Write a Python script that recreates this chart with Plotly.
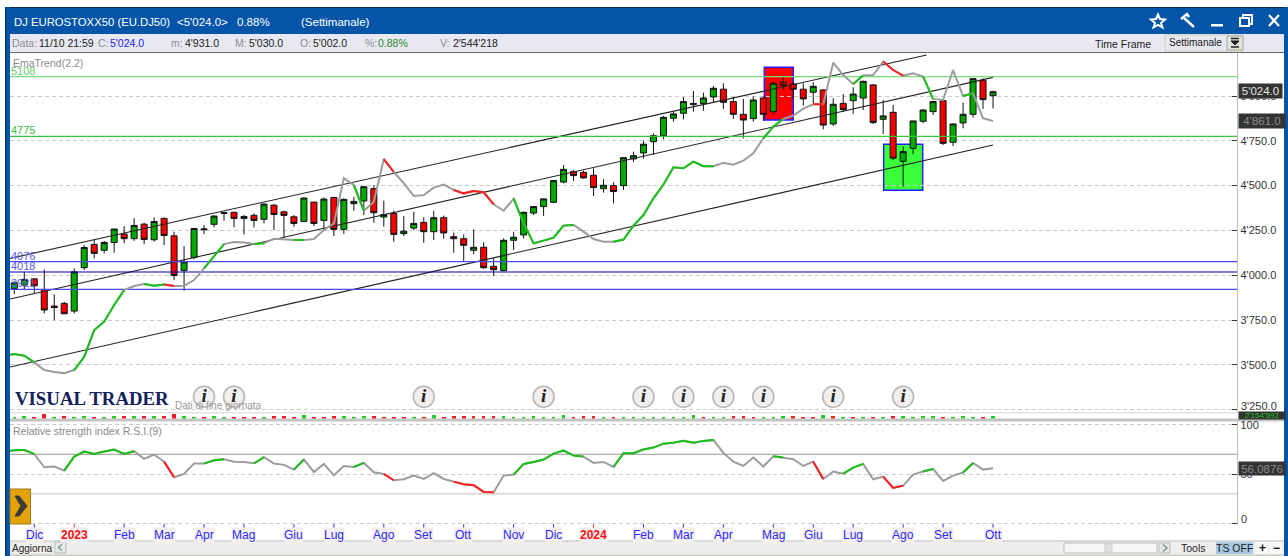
import plotly.graph_objects as go

# ---------- data ----------
weeks = list(range(99))
opens = [3926,3945,3980,3921,3828,3843,3800,4042,4172,4139,4183,4230,4204,4285,4198,4317,4220,4027,4099,4254,4284,4345,4351,4328,4334,4312,4391,4354,4326,4300,4408,4306,4434,4256,4399,4414,4483,4325,4345,4232,4263,4295,
         4243,4321,4215,4204,4139,4156,4050,4026,4195,4225,4347,4383,4407,4520,4578,4574,4558,4483,4500,4500,4649,4682,4745,4779,4876,4904,4952,4958,4995,5038,4969,4898,4874,4989,4913,5077,5067,5038,5021,5034,4844,4959,4974,4989,5062,4870,4909,4636,4708,4859,4913,4974,4742,4850,4898,5088,5002]
closes = [3958,3977,3941,3806,3820,3785,4019,4155,4122,4183,4258,4204,4278,4200,4300,4222,3999,4075,4261,4258,4330,4349,4317,4317,4306,4397,4339,4334,4289,4431,4289,4425,4256,4423,4412,4494,4349,4339,4228,4246,4289,4243,
          4321,4236,4204,4167,4156,4042,4031,4195,4212,4351,4383,4426,4528,4591,4556,4543,4489,4502,4467,4656,4667,4731,4779,4881,4900,4969,4958,4989,5043,4965,4898,4866,4978,4898,5071,5060,5038,4984,5054,4838,4954,4924,5011,5082,4852,4889,4653,4690,4861,4922,4969,4736,4844,4898,5097,4980,5024]
highs = [3967,4019,3980,4033,3893,3852,4038,4168,4200,4191,4258,4274,4319,4293,4323,4323,4243,4163,4261,4280,4336,4354,4354,4336,4345,4401,4397,4360,4336,4434,4408,4434,4438,4429,4438,4498,4503,4416,4360,4330,4354,4323,
         4359,4333,4238,4228,4256,4184,4095,4206,4243,4355,4383,4429,4532,4615,4587,4584,4597,4535,4519,4658,4690,4749,4792,4889,4913,4993,5028,5019,5056,5071,4994,4984,4997,4997,5080,5104,5077,5071,5077,5038,4987,5011,5049,5086,5067,4978,4950,4718,4861,4926,4974,4974,4848,4963,5099,5099,5030]
lows = [3895,3917,3902,3787,3750,3783,3787,4029,4094,4122,4126,4178,4192,4174,4187,4168,3973,3913,4088,4230,4267,4304,4267,4228,4267,4289,4252,4211,4271,4297,4274,4252,4219,4230,4360,4336,4293,4271,4187,4219,4252,4181,
        4197,4204,4126,4076,4117,4035,3996,4022,4141,4206,4336,4331,4405,4513,4526,4539,4442,4461,4401,4476,4632,4651,4671,4759,4857,4870,4913,4918,4965,4928,4872,4764,4857,4861,4894,5034,4984,4946,4950,4814,4833,4913,4900,4922,4844,4788,4643,4494,4675,4848,4894,4727,4721,4820,4879,4928,4931]

ema_weeks = list(range(-1, 99))
ema = [3551,3560,3551,3514,3471,3460,3454,3471,3545,3694,3741,3834,3917,3940,3951,3941,3949,3940,3941,3973,4038,4103,4174,4185,4183,4174,4178,4204,4198,4196,4196,4202,4252,4289,4542,4503,4360,4410,4648,4576,4514,4442,4447,
       4489,4506,4476,4457,4470,4463,4396,4360,4427,4290,4178,4193,4210,4277,4281,4243,4202,4187,4187,4199,4277,4336,4429,4506,4602,4597,4634,4608,4608,4628,4617,4639,4680,4764,4829,4872,4891,4930,4954,4954,5186,5117,5067,5114,5117,5192,5145,5114,5127,5108,4984,4978,5145,5000,5015,4876,4861]
ema_green_spans = [(-1,2),(6,11),(13,15),(19,21),(24,25),(28,29),(34,35),(50,56),(60,70),(75,77),(84,85),(91,92),(95,96)]
ema_red_spans = [(15,16),(37,38),(44,48),(80,81),(87,89)]

rsi = [73.0,74.3,74.6,70.5,57.0,57.7,53.6,67.8,72.9,70.5,72.9,75.0,70.5,73.3,65.5,69.9,62.7,46.8,50.2,60.7,60.7,64.1,65.1,62.7,62.4,61.0,67.2,60.7,59.4,54.6,64.8,52.2,60.4,48.8,58.3,57.3,61.4,51.9,50.2,43.8,44.8,48.5,45.1,
       50.9,45.1,42.4,39.7,38.7,31.9,31.6,48.5,49.5,60.4,62.4,64.8,70.9,73.9,68.8,67.8,61.4,62.4,57.3,71.2,71.2,75.0,77.0,81.0,82.0,83.8,82.0,83.8,84.8,71.6,62.7,58.3,66.8,57.7,68.2,66.8,65.1,58.3,62.7,45.1,52.6,50.5,56.6,60.4,44.8,47.5,36.0,38.3,49.5,52.6,55.3,43.1,48.5,51.6,61.4,54.6,56.09]
rsi_green_spans = [(-1,2),(5,12),(19,21),(24,25),(28,29),(34,35),(50,57),(60,70),(76,77),(83,85),(91,92),(95,96)]
rsi_red_spans = [(15,16),(37,38),(44,48),(80,81),(87,89)]

volume_m = [2.1,2.2,2.0,4.6,2.0,2.4,2.1,2.6,2.0,2.1,2.3,2.4,2.2,2.3,2.4,2.5,4.8,2.4,2.1,2.0,2.5,2.0,2.0,2.1,2.0,2.1,2.6,2.6,2.0,3.8,2.1,2.0,2.2,2.2,2.0,3.0,3.0,2.0,2.0,2.1,2.0,2.0,
            3.8,2.0,2.4,2.4,2.4,2.4,2.4,2.4,2.0,2.0,2.6,2.0,2.0,3.8,2.0,2.6,2.2,2.0,2.1,2.0,2.0,2.0,2.0,2.0,2.0,2.0,3.6,2.0,2.0,2.0,2.8,2.8,2.0,2.0,2.0,2.6,2.8,2.0,2.0,3.6,2.4,2.0,2.0,
            2.0,2.0,2.0,3.0,2.6,2.0,2.4,2.4,2.0,2.0,2.6,2.0,2.0,2.54]
volume_dir = list("ggrrgrggrggrgrgrrggrggrrrgrrrgrrrgggrrrrgr"[:42] + "grrrrrrgggggggrrrgrggggggggrggrrrgggrrrgrgrg"[:43] + "grgrggggrgggrg")

hlevels_green = [5108, 4775]
hlevels_blue = [4076, 3921]
hlevel_navy = [4018]
channel_top_x, channel_top_y = [-0.43, 91.36], [4094, 5229]
channel_mid_x, channel_mid_y = [-0.43, 98], [3867, 5104]
channel_low_x, channel_low_y = [-0.43, 98], [3488, 4727]
red_zone = dict(x0=75.1, x1=78.0, y0=4866, y1=5160)
green_zone = dict(x0=87.05, x1=90.96, y0=4474, y1=4731)
event_weeks = [19, 22, 41, 53, 63, 67, 71, 75, 82, 89]
event_level = 3322
price_ticks = [3250, 3500, 3750, 4000, 4250, 4500, 4750, 5000]
price_labels = ["", "3'500.0", "3'750.0", "4'000.0", "4'250.0", "4'500.0", "4'750.0", "5'000.0"]
rsi_ticks = [0, 50, 100]
rsi_labels = ["", "50", "100"]
time_ticks = [2, 6, 11, 15, 19, 23, 28, 32, 37, 41, 45, 50, 54, 58, 63, 67, 71, 76, 80, 84, 89, 93, 98]
time_labels = ["Dic", "2023", "Feb", "Mar", "Apr", "Mag", "Giu", "Lug", "Ago", "Set", "Ott", "Nov", "Dic", "2024", "Feb", "Mar", "Apr", "Mag", "Giu", "Lug", "Ago", "Set", "Ott"]

# ---------- helpers ----------
W, H = 1288, 556
FONT = "Liberation Sans"
def px(x): return x / W
def py(y): return 1 - y / H

ann = []
def label(x, y, text, size=11, color="#333", anchor="left", family=FONT, **kw):
    ann.append(dict(x=px(x), y=py(y), xref="paper", yref="paper", text=text, showarrow=False,
                    xanchor=anchor, yanchor="middle", borderpad=0,
                    font=dict(size=size, color=color, family=family), **kw))

shapes = []
def rect(x0, y0, x1, y1, fill, line=None, width=1, layer="below"):
    shapes.append(dict(type="rect", xref="paper", yref="paper", x0=px(x0), x1=px(x1), y0=py(y0), y1=py(y1),
                       fillcolor=fill, line=dict(color=line or fill, width=width if line else 0), layer=layer))
def seg(x0, y0, x1, y1, color, width=1, layer="above"):
    shapes.append(dict(type="line", xref="paper", yref="paper", x0=px(x0), x1=px(x1), y0=py(y0), y1=py(y1),
                       line=dict(color=color, width=width), layer=layer))
def path(pts, color, width=2, fill=None, layer="above", close=False):
    d = "M " + " L ".join(f"{px(a):.5f} {py(b):.5f}" for a, b in pts) + (" Z" if close else "")
    shapes.append(dict(type="path", xref="paper", yref="paper", path=d, line=dict(color=color, width=width),
                       fillcolor=fill or "rgba(0,0,0,0)", layer=layer))

def spans_xy(xs, ys, spans):
    ox, oy = [], []
    for a, b in spans:
        for i, xv in enumerate(xs):
            if a <= xv <= b:
                ox.append(xv); oy.append(ys[i])
        ox.append(None); oy.append(None)
    return ox, oy

# ---------- window chrome ----------
BLUE = "#0455A8"
rect(5, 7, 1288, 556, "#FFFFFF")
rect(5, 7, 1288, 34, BLUE)
seg(5, 7.5, 1288, 7.5, "#0A2A50", 1, "below")
rect(5, 7, 10, 556, BLUE)
seg(5.5, 7, 5.5, 556, "#0A2A50", 1, "below")
rect(1284, 7, 1288, 556, BLUE)
rect(10, 34, 1284, 52, "#E8E8F2")
seg(10, 52.5, 1284, 52.5, "#666", 1, "below")
rect(10, 541, 1284, 556, "#F0EEEC")
seg(10, 541, 1284, 541, "#BBB", 1, "below")
rect(10, 554.5, 1284, 556, "#CCCCC0")

label(13, 22, "DJ EUROSTOXX50 (EU.DJ50)", 11.3, "#FFFFFF")
label(176, 22, "&lt;5'024.0&gt;", 11.5, "#FFFFFF")
label(236, 22, "0.88%", 11.5, "#FFFFFF")
label(300, 22, "(Settimanale)", 11.5, "#FFFFFF")
for x, t, c in [(11, "Data:", "#8c8c8c"), (38, "11/10 21:59", "#222"), (97, "C:", "#8c8c8c"), (109, "5'024.0", "#2222EE"),
                (170, "m:", "#8c8c8c"), (184, "4'931.0", "#222"), (234, "M:", "#8c8c8c"), (248, "5'030.0", "#222"),
                (299, "O:", "#8c8c8c"), (312, "5'002.0", "#222"), (364, "%:", "#8c8c8c"), (377, "0.88%", "#2E8B2E"),
                (439, "V:", "#8c8c8c"), (452, "2'544'218", "#222")]:
    label(x, 43.5, t, 10.5, c)
label(1094, 44, "Time Frame", 10.5, "#222")
rect(1165, 35, 1243, 51, "#E8E8F2", "#CFCFC4")
label(1168, 42.5, "Settimanale", 10, "#222")
rect(1227, 36, 1243, 50, "#E4E2DA", "#AAAAA0")
path([(1231, 41), (1239, 41), (1235, 45)], "#222", 1, "#222", close=True)
seg(1231, 38.5, 1239, 38.5, "#222", 1.5)
seg(1231, 47, 1239, 47, "#222", 1.5)

# title-bar icons
path([(1158, 14.5), (1160, 19), (1165, 19.5), (1161, 23), (1162.5, 27.5), (1158, 25), (1153.5, 27.5), (1155, 23), (1151, 19.5), (1156, 19)],
     "#FFFFFF", 2, close=True)
seg(1184, 18, 1194, 27, "#FFFFFF", 2.5)
path([(1181, 19), (1187, 14), (1189, 17)], "#FFFFFF", 2.5)
rect(1211, 24, 1223, 26.5, "#FFFFFF", layer="above")
path([(1243, 18), (1243, 15), (1252, 15), (1252, 24), (1249, 24)], "#FFFFFF", 1.8)
path([(1240, 18), (1249, 18), (1249, 26), (1240, 26)], "#FFFFFF", 2, close=True)
seg(1269, 15, 1279, 26, "#FFFFFF", 2.2)
seg(1279, 15, 1269, 26, "#FFFFFF", 2.2)

# panes decoration
rect(10, 412, 1284, 413.5, "#E4E4E4")
rect(10, 418.5, 1284, 421.5, "#C4C4C4")

# orange button
rect(10, 489, 30.5, 524, "#E3A208", "#A67C14", 1, layer="above")
path([(15, 496), (19, 496), (27, 506), (19, 516), (15, 516), (21, 506)], "#3A3A3A", 1, "#3A3A3A", close=True)

# bottom bar
rect(11, 542, 52, 554, "#F4F2F0", "#DDD")
label(31.5, 548, "Aggiorna", 10, "#222", "center")
rect(55, 542, 66, 553, "#E4E8E4", "#BBB")
path([(62, 544.5), (58.5, 547.5), (62, 550.5)], "#7A9A90", 1.5)
rect(1064, 543, 1157, 553, "#F6F6F6", "#BBB")
rect(1105, 544, 1112, 552, "#E2E2E2", "#CCC")
rect(1159, 543, 1170, 553, "#E4E8E4", "#BBB")
path([(1163, 544.5), (1167, 548), (1163, 551.5)], "#7A9A90", 1.5)
label(1193, 548, "Tools", 10.5, "#222", "center")
rect(1216, 542, 1253, 554, "#A9C8E6")
label(1234.5, 548, "TS OFF", 10.5, "#222", "center")
rect(1255, 542, 1268, 554, "#F8F8F8")
label(1262, 548, "<b>+</b>", 12, "#111", "center")
rect(1270, 542, 1282, 554, "#F8F8F8")
label(1276, 548, "<b>−</b>", 12, "#111", "center")

# pane labels
label(12, 63, "EmaTrend(2.2)", 10.5, "#8a8a8a")
label(10, 71, "5108", 11, "#6CCB6C")
label(10, 130, "4775", 11, "#40BE40")
label(10, 256, "4076", 11, "#5A5AF0")
label(10, 265.5, "4018", 11, "#5A5AF0")
label(10, 283, "3921", 11, "#5A5AF0")
label(174, 405, "Dati di fine giornata", 10, "#9a9a9a")
label(14, 398, "<b>VISUAL TRADER</b>", 18.8, "#14205C", family="Liberation Serif")
label(12, 431, "Relative strength index R.S.I.(9)", 10.5, "#8a8a8a")
label(1240, 405.5, "3'250.0", 11, "#333")
label(1240, 519, "0", 11, "#333")

# value boxes
label(1238, 91, "5'024.0", 11.5, "#E6E6E6", bgcolor="#333333", width=43, height=14, align="center")
label(1238, 121, "4'861.0", 11.5, "#8C8C8C", bgcolor="#333333", width=46, height=14, align="center")
label(1238, 468.5, "56.0876", 11.5, "#8C8C8C", bgcolor="#333333", width=46, height=13, align="center")
label(1238, 415, "2'154'592", 8, "#22C022", bgcolor="#333333", width=46, height=7, align="center")

# time ticks and labels
XMIN, XMAX = -0.43, 122.46
for t, lab in zip(time_ticks, time_labels):
    year = lab.startswith("20")
    shapes.append(dict(type="line", xref="x", yref="paper", x0=t, x1=t, y0=py(524), y1=py(528),
                       line=dict(color="#FF3030" if year else "#3030FF", width=1), layer="above"))
    ann.append(dict(x=t, xref="x", y=py(535), yref="paper", showarrow=False, xanchor="center", yanchor="middle",
                    text=f"<b>{lab}</b>" if year else lab, bgcolor="#F3EFEF", borderpad=0,
                    font=dict(family=FONT, size=12, color="#FF1010" if year else "#2A2AFF")))

# highlighted zones
for z, c in [(red_zone, "#FF0000"), (green_zone, "#3CFF3C")]:
    shapes.append(dict(type="rect", xref="x", yref="y", fillcolor=c, line=dict(color="#2020FF", width=1.5), layer="below", **z))

# ---------- traces ----------
fig = go.Figure()
GRAY, GREEN, RED = "#9C9C9C", "#18C018", "#FF1C1C"

fig.add_trace(go.Scatter(x=channel_top_x, y=channel_top_y, mode="lines", line=dict(color="#222", width=1.1), yaxis="y"))
fig.add_trace(go.Scatter(x=channel_mid_x, y=channel_mid_y, mode="lines", line=dict(color="#222", width=1.1), yaxis="y"))
fig.add_trace(go.Scatter(x=channel_low_x, y=channel_low_y, mode="lines", line=dict(color="#222", width=1.1), yaxis="y"))

for lv, c in zip(hlevels_green, ["#78DC78", "#38C838"]):
    fig.add_trace(go.Scatter(x=[XMIN, XMAX], y=[lv, lv], mode="lines", line=dict(color=c, width=1.2), yaxis="y"))
for lv in hlevels_blue:
    fig.add_trace(go.Scatter(x=[XMIN, XMAX], y=[lv, lv], mode="lines", line=dict(color="#4A4AF5", width=1.2), yaxis="y"))
for lv in hlevel_navy:
    fig.add_trace(go.Scatter(x=[XMIN, XMAX], y=[lv, lv], mode="lines", line=dict(color="#0000B4", width=1.2), yaxis="y"))

fig.add_trace(go.Candlestick(x=weeks, open=opens, high=highs, low=lows, close=closes, yaxis="y",
                             increasing=dict(line=dict(color="#101010", width=1), fillcolor="#00A800"),
                             decreasing=dict(line=dict(color="#101010", width=1), fillcolor="#F40000")))

fig.add_trace(go.Scatter(x=ema_weeks, y=ema, mode="lines", line=dict(color=GRAY, width=2), yaxis="y"))
gx, gy = spans_xy(ema_weeks, ema, ema_green_spans)
fig.add_trace(go.Scatter(x=gx, y=gy, mode="lines", line=dict(color=GREEN, width=2), yaxis="y"))
rx, ry = spans_xy(ema_weeks, ema, ema_red_spans)
fig.add_trace(go.Scatter(x=rx, y=ry, mode="lines", line=dict(color=RED, width=2), yaxis="y"))

fig.add_trace(go.Scatter(x=event_weeks, y=[event_level] * len(event_weeks), mode="markers+text", yaxis="y",
                         marker=dict(size=21, color="#F2EFEF", line=dict(color="#B8B8B8", width=1.6)),
                         text=["<b><i>i</i></b>"] * len(event_weeks), textposition="middle center",
                         textfont=dict(family="Liberation Serif", size=19, color="#222")))

fig.add_trace(go.Bar(x=weeks, y=volume_m, width=0.36, yaxis="y2",
                     marker=dict(color=["#22CC22" if d == "g" else "#F02020" for d in volume_dir], line=dict(width=0))))

for lv, c, w in [(70, "#ABABAB", 1.2), (30, "#DCDCDC", 2)]:
    fig.add_trace(go.Scatter(x=[XMIN, XMAX], y=[lv, lv], mode="lines", line=dict(color=c, width=w), yaxis="y3"))
fig.add_trace(go.Scatter(x=ema_weeks, y=rsi, mode="lines", line=dict(color=GRAY, width=2), yaxis="y3"))
gx, gy = spans_xy(ema_weeks, rsi, rsi_green_spans)
fig.add_trace(go.Scatter(x=gx, y=gy, mode="lines", line=dict(color=GREEN, width=2), yaxis="y3"))
rx, ry = spans_xy(ema_weeks, rsi, rsi_red_spans)
fig.add_trace(go.Scatter(x=rx, y=ry, mode="lines", line=dict(color=RED, width=2), yaxis="y3"))

fig.update_layout(
    width=W, height=H, autosize=False, showlegend=False, hovermode=False,
    margin=dict(l=0, r=0, t=0, b=0, pad=0, autoexpand=False),
    paper_bgcolor="#FFFFFF", plot_bgcolor="rgba(0,0,0,0)",
    font=dict(family=FONT),
    boxgap=0.14,
    xaxis=dict(domain=[px(10), px(1237.3)], range=[XMIN, XMAX], anchor="y3", showgrid=False, zeroline=False,
               showticklabels=False, ticks="", showline=False, rangeslider=dict(visible=False)),
    yaxis=dict(domain=[py(412), py(53)], range=[3237, 5240], side="right", anchor="x", tickvals=price_ticks,
               ticktext=price_labels, ticks="inside", ticklen=5, tickcolor="#333", tickfont=dict(size=11, color="#333", family=FONT),
               showgrid=True, griddash="4px,3px", gridcolor="#CBCBCB", gridwidth=1, zeroline=False, showline=True, linecolor="#BDBDBD"),
    yaxis2=dict(domain=[py(418.5), py(413)], range=[0, 6], anchor="x", showgrid=False, zeroline=False, showticklabels=False, ticks=""),
    yaxis3=dict(domain=[py(525), py(421)], range=[-1.7, 104], side="right", anchor="x", tickvals=rsi_ticks, ticktext=rsi_labels,
                ticks="inside", ticklen=5, tickcolor="#333", tickfont=dict(size=11, color="#333", family=FONT),
                showgrid=True, griddash="4px,3px", gridcolor="#CBCBCB", gridwidth=1, zeroline=False, showline=True, linecolor="#BDBDBD"),
    bargap=0, shapes=shapes, annotations=ann,
)

fig.write_html("out.html", config=dict(displayModeBar=False),
               post_script="document.body.style.margin='0';document.documentElement.style.overflow='hidden';")
